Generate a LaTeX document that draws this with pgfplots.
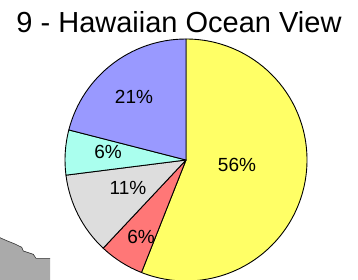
\documentclass[border=0pt]{standalone}
\usepackage{pgfplots}
\pgfplotsset{compat=1.18}
\usepackage{pgfplotstable}
\usepackage{fontspec}
\setmainfont{Liberation Sans}
\definecolor{cYellow}{RGB}{255,255,102}
\definecolor{cRed}{RGB}{255,119,119}
\definecolor{cGray}{RGB}{221,221,221}
\definecolor{cCyan}{RGB}{170,255,238}
\definecolor{cBlue}{RGB}{153,153,255}
\definecolor{landgray}{RGB}{170,170,170}
\pgfplotstableread{
value color lx ly
56 cYellow 237 115
6 cRed 141 43
11 cGray 128 92
6 cCyan 108 128
21 cBlue 134 183
}\piedata
\begin{document}
\begin{tikzpicture}
\begin{axis}[hide axis, scale only axis, width=358bp, height=280bp,
  xmin=0, xmax=358, ymin=0, ymax=280, clip=true, at={(0,0)}, anchor=south west]
\addplot[fill=landgray, draw=none] coordinates {(0,42.3) (6.7,39.3) (15,36) (21.7,32.7) (23.3,29) (33.3,25.7) (36,21.7) (50,21.7) (50,0) (0,0)} -- cycle;
\addplot[draw=black!80, line width=0.6pt] coordinates {(0,42.3) (6.7,39.3) (15,36) (21.7,32.7) (23.3,29) (33.3,25.7) (36,21.7) (50,21.7)};
\def\sang{90}
\pgfplotsforeachungrouped \i in {0,...,4} {
  \pgfplotstablegetelem{\i}{value}\of\piedata \let\v=\pgfplotsretval
  \pgfplotstablegetelem{\i}{color}\of\piedata \let\c=\pgfplotsretval
  \pgfplotstablegetelem{\i}{lx}\of\piedata \let\lx=\pgfplotsretval
  \pgfplotstablegetelem{\i}{ly}\of\piedata \let\ly=\pgfplotsretval
  \pgfmathsetmacro\eang{\sang - \v*3.6}
  \edef\temp{\noexpand\filldraw[fill=\c, draw=black, line width=0.9pt, line join=round] (axis cs:186,120) -- ++(\sang:121bp) arc[start angle=\sang, end angle=\eang, radius=121bp] -- cycle;
    \noexpand\node[font=\noexpand\fontsize{19bp}{22bp}\noexpand\selectfont] at (axis cs:\lx,\ly) {\v\noexpand\%};}
  \temp
  \global\let\sang=\eang
}
\node[anchor=base, font=\fontsize{29bp}{33bp}\selectfont, inner sep=0pt] at (axis cs:179,248) {9 - Hawaiian Ocean View};
\end{axis}
\pgfresetboundingbox
\useasboundingbox (0,0) rectangle (358bp,280bp);
\end{tikzpicture}
\end{document}
